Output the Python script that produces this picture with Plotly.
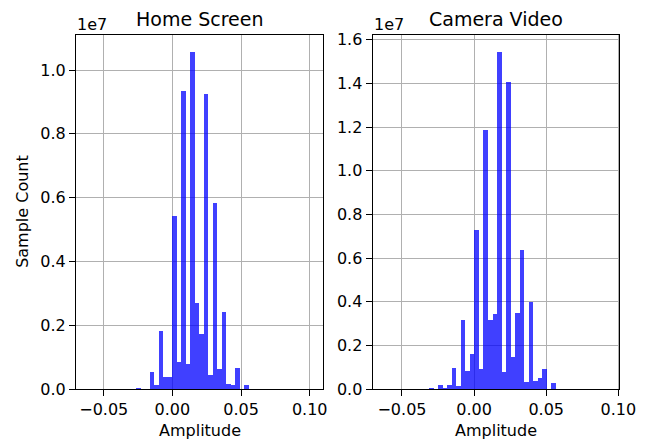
import plotly.graph_objects as go

# ---- data (counts in units of 1e7) ----
home_first_bin = -8            # index of first bin (bins aligned at 0)
home_bin_width = 0.003268
home_counts_1e7 = [0.005, 0.002, 0.002, 0.053, 0.015, 0.184, 0.040, 0.040,
                   0.542, 0.087, 0.935, 0.079, 1.057, 0.272, 0.173, 0.926,
                   0.044, 0.585, 0.063, 0.241, 0.018, 0.012, 0.068, 0.0, 0.012]

cam_first_bin = -10
cam_bin_width = 0.003141
cam_counts_1e7 = [0.005, 0.001, 0.018, 0.005, 0.018, 0.096, 0.014, 0.316,
                  0.083, 0.161, 0.728, 0.092, 1.186, 0.316, 0.343, 1.544,
                  0.078, 1.406, 0.147, 0.348, 0.637, 0.033, 0.401, 0.037,
                  0.050, 0.092, 0.0, 0.027]

titles = ["Home Screen", "Camera Video"]
x_tick_vals = [-0.05, 0.0, 0.05, 0.10]
x_tick_text = ["\u22120.05", "0.00", "0.05", "0.10"]
home_y_ticks = [0.0, 0.2, 0.4, 0.6, 0.8, 1.0]
cam_y_ticks = [0.0, 0.2, 0.4, 0.6, 0.8, 1.0, 1.2, 1.4, 1.6]
SCALE = 1e7

W, H = 650, 442
FONT = "DejaVu Sans"
BAR_COLOR = "rgba(0,0,255,0.75)"
TICK_SIZE = 16
TITLE_SIZE = 19


def centers(first, width, n):
    return [(first + i + 0.5) * width for i in range(n)]


fig = go.Figure()
fig.add_trace(go.Bar(
    x=centers(home_first_bin, home_bin_width, len(home_counts_1e7)),
    y=[c * SCALE for c in home_counts_1e7],
    width=home_bin_width, marker=dict(color=BAR_COLOR, line=dict(width=0)),
    xaxis="x", yaxis="y", showlegend=False))
fig.add_trace(go.Bar(
    x=centers(cam_first_bin, cam_bin_width, len(cam_counts_1e7)),
    y=[c * SCALE for c in cam_counts_1e7],
    width=cam_bin_width, marker=dict(color=BAR_COLOR, line=dict(width=0)),
    xaxis="x2", yaxis="y2", showlegend=False))

# axes geometry in pixels
L1, R1 = 76, 323.3
L2, R2 = 372.7, 619.3
TOP, BOT = 34.7, 389


def px_x(p):
    return p / W


def px_y(p):
    return (H - p) / H


common = dict(
    showgrid=True, gridcolor="#b0b0b0", gridwidth=1,
    showline=True, linecolor="black", linewidth=1.2, mirror=True,
    ticks="outside", ticklen=6, tickcolor="black", tickwidth=1.2,
    zeroline=False, tickfont=dict(family=FONT, size=TICK_SIZE, color="black"),
    layer="above traces", tickmode="array", automargin=False,
)

fig.update_layout(
    width=W, height=H,
    margin=dict(l=0, r=0, t=0, b=0),
    paper_bgcolor="white", plot_bgcolor="white",
    bargap=0, barmode="overlay",
    font=dict(family=FONT, size=TICK_SIZE, color="black"),
    xaxis=dict(domain=[px_x(L1), px_x(R1)], range=[-0.0702, 0.1099],
               anchor="y", tickvals=x_tick_vals, ticktext=x_tick_text, **common),
    yaxis=dict(domain=[px_y(BOT), px_y(TOP)], range=[0, 1.1107e7],
               anchor="x", tickvals=[v * SCALE for v in home_y_ticks],
               ticktext=[f"{v:.1f}" for v in home_y_ticks], **common),
    xaxis2=dict(domain=[px_x(L2), px_x(R2)], range=[-0.0703, 0.1007],
                anchor="y2", tickvals=x_tick_vals, ticktext=x_tick_text, **common),
    yaxis2=dict(domain=[px_y(BOT), px_y(TOP)], range=[0, 1.623e7],
                anchor="x2", tickvals=[v * SCALE for v in cam_y_ticks],
                ticktext=[f"{v:.1f}" for v in cam_y_ticks], **common),
)

ann = []
for (l, r), t in zip([(L1, R1), (L2, R2)], titles):
    ann.append(dict(text=t, x=px_x((l + r) / 2), y=px_y(19), xref="paper",
                    yref="paper", xanchor="center", yanchor="middle",
                    showarrow=False, font=dict(family=FONT, size=TITLE_SIZE, color="black")))
    ann.append(dict(text="Amplitude", x=px_x((l + r) / 2), y=px_y(430),
                    xref="paper", yref="paper", xanchor="center", yanchor="middle",
                    showarrow=False, font=dict(family=FONT, size=TICK_SIZE, color="black")))
    ann.append(dict(text="1e7", x=px_x(l - 1), y=px_y(24), xref="paper",
                    yref="paper", xanchor="left", yanchor="middle",
                    showarrow=False, font=dict(family=FONT, size=TICK_SIZE, color="black")))
ann.append(dict(text="Sample Count", x=px_x(23), y=px_y((TOP + BOT) / 2),
                xref="paper", yref="paper", xanchor="center", yanchor="middle",
                textangle=-90, showarrow=False,
                font=dict(family=FONT, size=TICK_SIZE, color="black")))
fig.update_layout(annotations=ann)

fig.write_html("out.html")
